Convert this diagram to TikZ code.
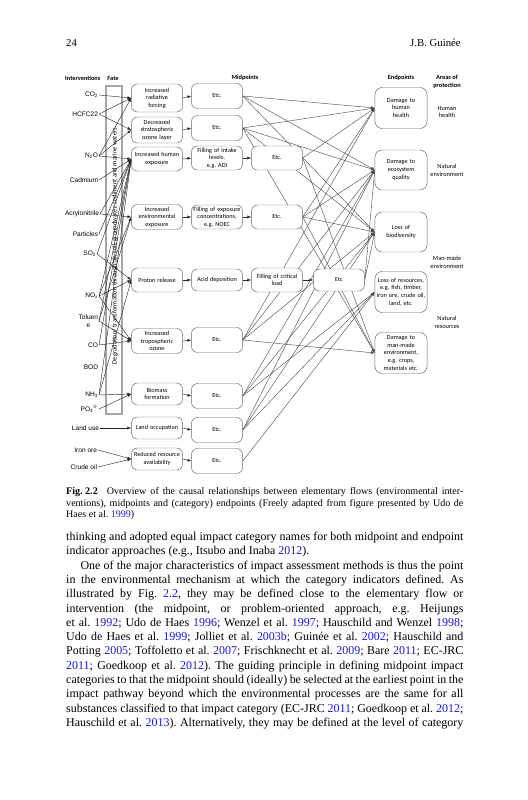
\documentclass[tikz,border=0pt]{standalone}
\usepackage{fontspec}
\setmainfont{Liberation Serif}
\newfontfamily\carl{Carlito}
\newfontfamily\arl{Liberation Sans}
\usetikzlibrary{arrows.meta}
\frenchspacing
\definecolor{linkblue}{RGB}{25,25,220}
\newcommand\bc[1]{\textcolor{linkblue}{#1}}
\pgfdeclarelayer{paper}\pgfdeclarelayer{col}\pgfdeclarelayer{bg}\pgfsetlayers{paper,col,bg,main}
\tikzset{
  box/.style={draw=black!60, line width=0.4pt, fill=white, rounded corners=5pt,
    minimum width=42.6pt, text width=40pt, align=center, inner sep=0pt,
    font=\carl\fontsize{5.2}{6.3}\selectfont},
  bh/.style={minimum height=#1*0.836pt},
  endbox/.style={box, rounded corners=6pt, minimum width=43.5pt, text width=42pt},
  lab/.style={font=\arl\fontsize{5.5}{6.3}\selectfont, inner sep=0.6pt, anchor=east, align=right},
  hdr/.style={font=\carl\bfseries\fontsize{5.3}{6.6}\selectfont, inner sep=0pt, align=center},
  area/.style={font=\carl\fontsize{5.3}{6.6}\selectfont, align=center, inner sep=0pt},
  arr/.style={-{Latex[length=3.2pt,width=2.4pt]}, line width=0.35pt, draw=black!85},
  body/.style={anchor=base west, inner sep=0pt, font=\fontsize{10}{12}\selectfont},
  capt/.style={anchor=base west, inner sep=0pt, font=\fontsize{8.4}{9.5}\selectfont},
}
\begin{document}
\begin{tikzpicture}[x=0.836pt, y=-0.836pt]
\begin{pgfonlayer}{paper}
\fill[white] (0,0) rectangle (527,800);
\end{pgfonlayer}
\useasboundingbox (0,0) rectangle (527,800);

% running head
\node[anchor=base west, inner sep=0pt, font=\fontsize{9}{11}\selectfont] (pg) at (66,46) {24};
\node[anchor=base east, inner sep=0pt, font=\fontsize{9}{11}\selectfont] (rh) at (461,46) {J.B. Guinée};

% headers
\node[hdr, anchor=west] (hint) at (65,78) {Interventions};
\node[hdr] (hfate) at (113,78) {Fate};
\node[hdr] (hmid) at (245,78) {Midpoints};
\node[hdr] (hend) at (401,78) {Endpoints};
\node[hdr] (harea) at (447,82) {Areas of\\protection};

% fate column
\begin{pgfonlayer}{col}
\draw[draw=black!35, line width=1.1pt, fill=white] (106,86) rectangle (122,414);
\node[rotate=90, inner sep=0pt, font=\carl\fontsize{5.5}{6.5}\selectfont] (fatetxt) at (115,246)
  {Degradation/ transformation through air, soil, groundwater, sediment and marine waters};
\end{pgfonlayer}

% interventions
\node[lab] (co2) at (99,95) {CO\textsubscript{2}};
\node[lab] (hcfc) at (99,114) {HCFC22};
\node[lab] (n2o) at (99,156) {N\textsubscript{2}O};
\node[lab] (cd) at (99,180) {Cadmium};
\node[lab] (acr) at (100,214) {Acrylonitrile};
\node[lab] (part) at (99,234) {Particles};
\node[lab] (so2) at (97,254) {SO\textsubscript{2}};
\node[lab] (nox) at (99,296) {NO\textsubscript{x}};
\node[lab, align=center] (tol) at (99,321) {Toluen\\e};
\node[lab] (co) at (99,345) {CO};
\node[lab] (bod) at (99,367) {BOD};
\node[lab] (nh3) at (99,395) {NH\textsubscript{3}};
\node[lab] (po4) at (99,409) {PO\textsubscript{4}\textsuperscript{3-}};
\node[lab] (landuse) at (100,428) {Land use};
\node[lab] (iron) at (98,450) {Iron ore};
\node[lab] (crude) at (98,467) {Crude oil};

% first-level boxes
\node[box, bh=28] (rf) at (157,98) {Increased\\radiative\\forcing};
\node[box, bh=26] (oz) at (157,130) {Decreased\\stratospheric\\ozone layer};
\node[box, bh=24] (hx) at (157,159) {Increased human\\exposure};
\node[box, bh=25] (ex) at (157,217) {Increased\\environmental\\exposure};
\node[box, bh=24] (pr) at (157,280) {Proton release};
\node[box, bh=25] (tr) at (157,341) {Increased\\tropospheric ozone};
\node[box, bh=22] (bm) at (157,394) {Biomass\\formation};
\node[box, bh=22] (lo) at (157,428) {Land occupation};
\node[box, bh=22] (rr) at (157,459) {Reduced resource\\availability};

% midpoints column 2
\node[box, bh=25] (e1) at (217,96) {Etc.};
\node[box, bh=25] (e2) at (217,128) {Etc.};
\node[box, bh=24] (fi) at (217,158) {Filling of intake\\levels,\\e.g. ADI};
\node[box, bh=24] (fe) at (217,217) {Filling of exposure\\concentrations,\\e.g. NOEC};
\node[box, bh=22] (ad) at (217,280) {Acid deposition};
\node[box, bh=25] (e5) at (217,340) {Etc.};
\node[box, bh=25] (e6) at (217,396) {Etc.};
\node[box, bh=25] (e7) at (217,430) {Etc.};
\node[box, bh=25] (e8) at (217,461) {Etc.};
% column 3
\node[box, bh=24] (e3) at (277,158) {Etc.};
\node[box, bh=24] (e4) at (277,217) {Etc.};
\node[box, bh=24] (fc) at (277,280) {Filling of critical\\load};
% column 4
\node[box, bh=22] (e9) at (339,280) {Etc};

% endpoints
\node[endbox, bh=41] (hh) at (401,108) {Damage to\\human\\health};
\node[endbox, bh=40] (eq) at (401,170) {Damage to\\ecosystem\\quality};
\node[endbox, bh=40] (bd) at (401,232) {Loss of\\biodiversity};
\node[endbox, bh=41] (rs) at (401,292) {Loss of resources,\\e.g. fish, timber,\\iron ore, crude oil,\\land, etc.};
\node[endbox, bh=41] (mm) at (401,353) {Damage to\\man-made\\environment,\\e.g. crops,\\materials etc.};

% areas of protection
\node[area] (ahh) at (447,112) {Human\\health};
\node[area] (ane) at (447,170) {Natural\\environment};
\node[area] (amm) at (447,262) {Man-made\\environment};
\node[area] (anr) at (447,322) {Natural\\resources};

\begin{pgfonlayer}{bg}
% interventions to first-level effects
\foreach \s/\t in {co2/rf, hcfc/rf, hcfc/oz, n2o/rf, n2o/oz, n2o/hx, cd/hx, acr/hx, acr/ex,
  part/hx, so2/hx, so2/pr, nox/hx, nox/ex, nox/pr, nox/tr, tol/hx, tol/ex, tol/tr,
  co/hx, co/tr, nh3/hx, nh3/pr, nh3/bm, po4/bm, landuse/lo, iron/rr, crude/rr}
  \draw[arr] (\s.east) -- (\t.west);
% chain arrows
\foreach \s/\t in {rf/e1, oz/e2, hx/fi, ex/fe, pr/ad, tr/e5, bm/e6, lo/e7, rr/e8, fi/e3, fe/e4, ad/fc, fc/e9}
  \draw[arr] (\s.east) -- (\t.west);
% midpoints to endpoints
\foreach \s/\t in {e1/hh, e1/eq, e1/bd, e2/hh, e2/eq, e2/bd, e2/mm, e3/hh, e3/mm,
  e4/hh, e4/eq, e4/bd, e4/mm, e9/eq, e9/bd, e5/hh, e5/eq, e5/bd, e5/mm,
  e6/eq, e6/bd, e6/rs, e7/eq, e7/bd, e7/rs, e8/rs}
  \draw[arr, draw=black!70] (\s.east) -- (\t.west);
\end{pgfonlayer}

% caption
\node[capt] (c1) at (66,494.5) {\makebox[332pt][s]{\textbf{\mbox{Fig.\ 2.2}}\hspace{0.9em}Overview of the causal relationships between elementary flows (environmental inter-}};
\node[capt] (c2) at (66,506) {\makebox[332pt][s]{ventions), midpoints and (category) endpoints (Freely adapted from figure presented by Udo de}};
\node[capt] (c3) at (66,517.5) {Haes et al. \bc{1999})};

% body text
\node[body] (b1) at (66,540.5) {\makebox[332pt][s]{thinking and adopted equal impact category names for both midpoint and endpoint}};
\node[body] (b2) at (66,554.8) {indicator approaches (e.g., Itsubo and Inaba \bc{2012}).};
\node[body] (b3) at (66,569.1) {\makebox[332pt][s]{\hspace*{12pt}One of the major characteristics of impact assessment methods is thus the point}};
\node[body] (b4) at (66,583.4) {\makebox[332pt][s]{in the environmental mechanism at which the category indicators defined. As}};
\node[body] (b5) at (66,597.7) {\makebox[332pt][s]{illustrated by Fig. \bc{2.2}, they may be defined close to the elementary flow or}};
\node[body] (b6) at (66,612) {\makebox[332pt][s]{intervention (the midpoint, or problem-oriented approach, e.g. Heijungs}};
\node[body] (b7) at (66,626.3) {\makebox[332pt][s]{et al. \bc{1992}; Udo de Haes \bc{1996}; Wenzel et al. \bc{1997}; Hauschild and Wenzel \bc{1998};}};
\node[body] (b8) at (66,640.6) {\makebox[332pt][s]{Udo de Haes et al. \bc{1999}; Jolliet et al. \bc{2003b}; Guinée et al. \bc{2002}; Hauschild and}};
\node[body] (b9) at (66,654.9) {\makebox[332pt][s]{Potting \bc{2005}; Toffoletto et al. \bc{2007}; Frischknecht et al. \bc{2009}; Bare \bc{2011}; EC-JRC}};
\node[body] (b10) at (66,669.2) {\makebox[332pt][s]{\bc{2011}; Goedkoop et al. \bc{2012}). The guiding principle in defining midpoint impact}};
\node[body] (b11) at (66,683.5) {\makebox[332pt][s]{categories to that the midpoint should (ideally) be selected at the earliest point in the}};
\node[body] (b12) at (66,697.8) {\makebox[332pt][s]{impact pathway beyond which the environmental processes are the same for all}};
\node[body] (b13) at (66,712.1) {\makebox[332pt][s]{substances classified to that impact category (EC-JRC \bc{2011}; Goedkoop et al. \bc{2012};}};
\node[body] (b14) at (66,726.4) {\makebox[332pt][s]{Hauschild et al. \bc{2013}). Alternatively, they may be defined at the level of category}};
\end{tikzpicture}
\end{document}
